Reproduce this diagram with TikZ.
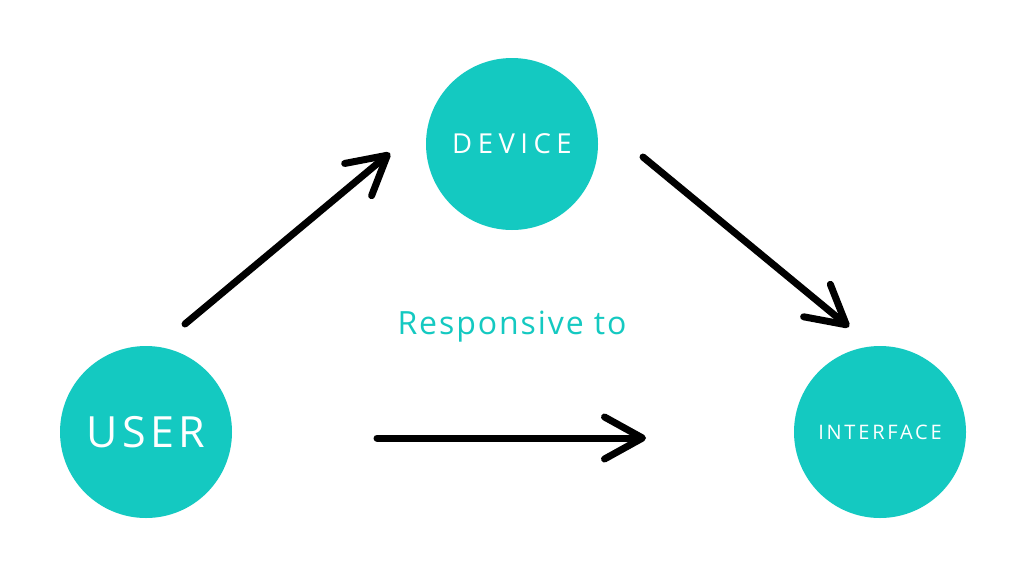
\documentclass[tikz,border=0pt]{standalone}
\usepackage{fontspec}
\setmainfont{Open Sans}
\usetikzlibrary{arrows.meta}
\definecolor{teal1}{RGB}{20,201,193}
\newfontfamily\fuser[LetterSpace=10]{Open Sans}
\newfontfamily\fdevice[LetterSpace=20]{Open Sans}
\newfontfamily\fiface[LetterSpace=14]{Open Sans}
\newfontfamily\fresp[LetterSpace=6]{Open Sans}
\begin{document}
\begin{tikzpicture}[x=1pt,y=-1pt,
  bubble/.style={circle,fill=teal1,minimum size=172pt,inner sep=0pt,text=white},
  conn/.style={line width=7pt,line cap=round,
    -{Straight Barb[length=38pt,width=42pt,line cap=round,line join=round]}}]
\useasboundingbox[fill=white] (0,0) rectangle (1024,576);
\node[bubble,font=\fuser\fontsize{43}{43}\selectfont] (user) at (146,432) {USER};
\node[bubble,font=\fdevice\fontsize{27.5}{27.5}\selectfont] (device) at (512,144) {DEVICE};
\node[bubble,font=\fiface\fontsize{20}{20}\selectfont] (iface) at (880,432) {INTERFACE};
\node[text=teal1,font=\fresp\fontsize{32}{32}\selectfont] (resp) at (512,327) {Responsive to};
\coordinate (a1s) at (185,324);
\coordinate (a1e) at (390,153);
\coordinate (a2s) at (643,157);
\coordinate (a2e) at (849,327);
\coordinate (a3s) at (377,438);
\coordinate (a3e) at (646,438);
\draw[conn] (a1s) -- (a1e);
\draw[conn] (a2s) -- (a2e);
\draw[conn] (a3s) -- (a3e);
\end{tikzpicture}
\end{document}
